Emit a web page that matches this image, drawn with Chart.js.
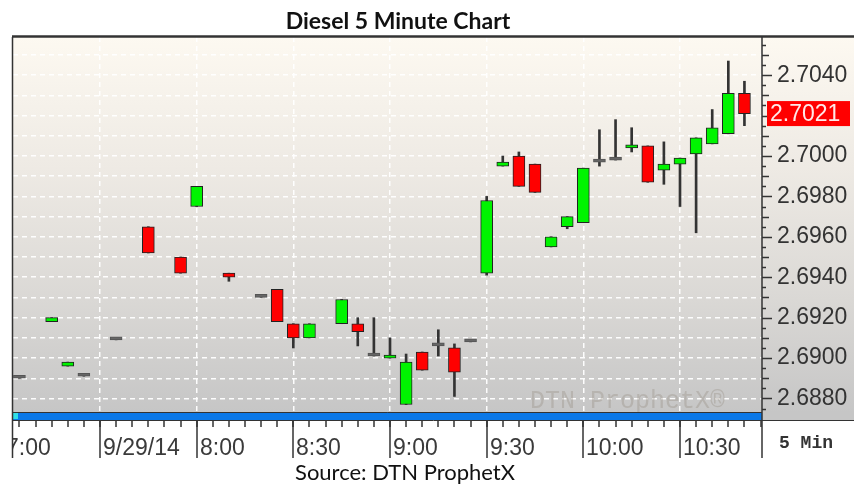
<!DOCTYPE html>
<html>
<head>
<meta charset="utf-8">
<script src="https://cdn.jsdelivr.net/npm/chart.js@4.4.0/dist/chart.umd.min.js"></script>
<style>
  html, body { margin: 0; padding: 0; background: #fff; }
</style>
</head>
<body>
<canvas id="dieselChart" width="854" height="485"></canvas>
<script>
// 5 minute bars, 9/29/14
const times  = ['7:05','7:15','7:20','7:25','7:35','7:45','7:55','8:00','8:10','8:20',
                '8:25','8:30','8:35','8:45','8:50','8:55','9:00','9:05','9:10','9:15',
                '9:20','9:25','9:30','9:35','9:40','9:45','9:50','9:55','10:00','10:05',
                '10:10','10:15','10:20','10:25','10:30','10:35','10:40','10:45','10:50'];
const opens  = [2.6890,2.6918,2.6896,2.6891,2.6909,2.6965,2.6950,2.6975,2.6942,2.6930,
                2.6934,2.6917,2.6910,2.6917,2.6917,2.6901,2.6900,2.6877,2.6903,2.6906,
                2.6905,2.6908,2.6942,2.6995,2.7000,2.6996,2.6955,2.6965,2.6967,2.6997,
                2.6998,2.7004,2.7005,2.6993,2.6996,2.7001,2.7006,2.7011,2.7031];
const highs  = [2.6890,2.6920,2.6898,2.6891,2.6909,2.6965,2.6950,2.6985,2.6942,2.6930,
                2.6934,2.6917,2.6917,2.6929,2.6920,2.6920,2.6910,2.6902,2.6903,2.6914,
                2.6907,2.6908,2.6980,2.7000,2.7002,2.6996,2.6960,2.6970,2.6994,2.7013,
                2.7018,2.7014,2.7005,2.7007,2.6999,2.7009,2.7023,2.7047,2.7037];
const lows   = [2.6890,2.6918,2.6896,2.6891,2.6909,2.6952,2.6942,2.6975,2.6938,2.6930,
                2.6918,2.6905,2.6910,2.6917,2.6906,2.6901,2.6900,2.6877,2.6894,2.6901,
                2.6881,2.6908,2.6941,2.6995,2.6985,2.6982,2.6955,2.6964,2.6967,2.6995,
                2.6998,2.7002,2.6987,2.6986,2.6975,2.6962,2.7006,2.7011,2.7015];
const closes = [2.6890,2.6920,2.6898,2.6891,2.6909,2.6952,2.6942,2.6985,2.6940,2.6930,
                2.6918,2.6910,2.6917,2.6929,2.6913,2.6901,2.6901,2.6898,2.6894,2.6906,
                2.6893,2.6908,2.6978,2.6997,2.6985,2.6982,2.6960,2.6970,2.6994,2.6997,
                2.6998,2.7005,2.6987,2.6996,2.6999,2.7009,2.7014,2.7031,2.7021];

const xTickLabels  = ['7:00','9/29/14','8:00','8:30','9:00','9:30','10:00','10:30'];
const xTickMinutes = [0, 30, 60, 90, 120, 150, 180, 210];
const yLabelValues = [2.6880, 2.6900, 2.6920, 2.6940, 2.6960, 2.6980, 2.7000, 2.7020, 2.7040];
const yGridValues  = [2.6880, 2.6890, 2.6900, 2.6910, 2.6920, 2.6930, 2.6940, 2.6950, 2.6960,
                      2.6970, 2.6980, 2.6990, 2.7000, 2.7010, 2.7020, 2.7030, 2.7040, 2.7050];

// minutes after 7:00
const toMin = t => { const p = t.split(':').map(Number); return (p[0] - 7) * 60 + p[1]; };

const GREEN = '#00f400', RED = '#ff0000';

const chrome = {
  id: 'chrome',
  beforeDraw(chart) {
    const c = chart.ctx, a = chart.chartArea;
    c.save();
    c.fillStyle = '#fff';
    c.fillRect(0, 0, chart.width, chart.height);
    const g = c.createLinearGradient(0, a.top, 0, a.bottom);
    g.addColorStop(0, '#fdf9f1');
    g.addColorStop(0.35, '#eeeae4');
    g.addColorStop(0.7, '#dad8d5');
    g.addColorStop(1, '#c6c6c6');
    c.fillStyle = g;
    c.fillRect(a.left, a.top, chart.width - a.left, a.bottom - a.top + 8);
    // scroll bar
    c.fillStyle = '#0a78e8';
    c.fillRect(a.left, a.bottom, a.right - a.left, 8);
    c.fillStyle = '#30e0e8';
    c.fillRect(a.left, a.bottom + 1, 5, 6);
    c.restore();
  },
  beforeDatasetsDraw(chart) {
    const c = chart.ctx, a = chart.chartArea;
    c.save();
    c.beginPath();
    c.rect(a.left, a.top, a.right - a.left, a.bottom - a.top);
    c.clip();
    c.font = '25px "Liberation Mono"';
    c.fillStyle = 'rgba(150,140,130,0.35)';
    c.textBaseline = 'alphabetic';
    c.fillText('DTN ProphetX\u00ae', 530, a.bottom - 4);
    c.restore();
  },
  afterDraw(chart) {
    const c = chart.ctx, a = chart.chartArea;
    const xs = chart.scales.x, ys = chart.scales.y;
    c.save();
    c.strokeStyle = '#333';
    // frame lines
    c.lineWidth = 2.5;
    c.beginPath(); c.moveTo(a.left - 1, a.top - 0.5); c.lineTo(chart.width, a.top - 0.5); c.stroke();
    c.lineWidth = 1.5;
    c.beginPath(); c.moveTo(a.left - 0.5, a.top); c.lineTo(a.left - 0.5, 458); c.stroke();
    c.beginPath(); c.moveTo(a.right, a.top); c.lineTo(a.right, 458); c.stroke();
    c.lineWidth = 1;
    c.beginPath(); c.moveTo(a.left, a.bottom + 0.5); c.lineTo(a.right, a.bottom + 0.5); c.stroke();
    c.beginPath(); c.moveTo(a.left, a.bottom + 8.5); c.lineTo(chart.width, a.bottom + 8.5); c.stroke();

    // x axis strip, clipped between the frame lines
    c.save();
    c.beginPath();
    c.rect(a.left, a.bottom + 9, a.right - a.left, 60);
    c.clip();
    c.lineWidth = 1.5;
    for (let m = 5; m < xs.max; m += 5) {
      const px = Math.round(xs.getPixelForValue(m));
      c.beginPath(); c.moveTo(px, a.bottom + 9); c.lineTo(px, a.bottom + 15); c.stroke();
    }
    c.font = '23px "Liberation Sans"';
    c.fillStyle = '#3a3a3a';
    c.textAlign = 'left';
    c.textBaseline = 'alphabetic';
    xTickMinutes.forEach((m, i) => {
      const px = Math.round(xs.getPixelForValue(m));
      c.beginPath(); c.moveTo(px, a.bottom + 9); c.lineTo(px, 458); c.stroke();
      c.fillText(xTickLabels[i], px + 3, 455);
    });
    c.restore();

    // y tick marks
    c.lineWidth = 1.5;
    for (let k = 0; k <= 36; k++) {
      const v = 2.6875 + k * 0.0005;
      if (v < ys.min || v > ys.max) continue;
      const py = Math.round(ys.getPixelForValue(v)) + 0.5;
      const len = k % 2 === 1 ? (yLabelValues.some(l => Math.abs(l - v) < 1e-6) ? 10 : 7) : 4;
      c.beginPath(); c.moveTo(a.right, py); c.lineTo(a.right + len, py); c.stroke();
    }

    // last price box
    const last = closes[closes.length - 1];
    const ly = ys.getPixelForValue(last);
    c.fillStyle = '#ff0000';
    c.fillRect(a.right + 5, ly - 12.5, 83, 25);
    c.fillStyle = '#ffe8e8';
    c.font = '23px "Liberation Sans"';
    c.textBaseline = 'middle';
    c.fillText(last.toFixed(4), a.right + 8, ly + 1);

    // interval box
    c.fillStyle = '#333';
    c.font = 'bold 18px "Liberation Mono"';
    c.textBaseline = 'alphabetic';
    c.fillText('5 Min', 779, 448);

    // title and source
    c.textAlign = 'center';
    c.fillStyle = '#111';
    c.font = 'bold 23px Lato';
    c.fillText('Diesel 5 Minute Chart', 398, 29);
    c.font = '22px Lato';
    c.fillText('Source: DTN ProphetX', 405, 480);
    c.restore();
  }
};

new Chart(document.getElementById('dieselChart'), {
  type: 'bar',
  data: {
    datasets: [
      {
        label: 'range',
        data: times.map((t, i) => ({ x: toMin(t), y: [lows[i], highs[i]] })),
        backgroundColor: '#333',
        borderWidth: 0,
        barThickness: 2,
        grouped: false,
        order: 2
      },
      {
        label: 'body',
        data: times.map((t, i) => ({ x: toMin(t), y: [opens[i], closes[i]] })),
        backgroundColor: ctx => {
          const r = ctx.raw.y;
          return r[1] > r[0] ? GREEN : (r[1] < r[0] ? RED : '#666');
        },
        borderColor: ctx => (ctx.raw.y[0] === ctx.raw.y[1] ? '#555' : '#222'),
        borderWidth: 1,
        borderSkipped: false,
        barThickness: 12,
        minBarLength: 3,
        grouped: false,
        order: 1
      }
    ]
  },
  options: {
    responsive: false,
    animation: false,
    devicePixelRatio: 1,
    layout: { padding: { left: 13, top: 37, right: 0, bottom: 0 } },
    plugins: { legend: { display: false }, tooltip: { enabled: false } },
    events: [],
    scales: {
      x: {
        type: 'linear',
        offset: false,
        min: 3.0,
        max: 235.45,
        afterBuildTicks: s => { s.ticks = xTickMinutes.slice(1).map(v => ({ value: v })); },
        afterFit: s => { s.height = 73; },
        ticks: { display: false },
        grid: { color: 'rgba(255,255,255,0.95)', lineWidth: 1.5, drawTicks: false, offset: false },
        border: { display: false, dash: [5, 4] }
      },
      y: {
        position: 'right',
        min: 2.68733,
        max: 2.70589,
        afterBuildTicks: s => { s.ticks = yGridValues.map(v => ({ value: v })); },
        afterFit: s => { s.width = 92; },
        ticks: {
          autoSkip: false,
          padding: 15,
          color: '#333',
          font: { family: 'Liberation Sans', size: 23 },
          callback: v => {
            const hit = yLabelValues.find(l => Math.abs(l - v) < 1e-6);
            return hit !== undefined && hit !== 2.7020 ? hit.toFixed(4) : '';
          }
        },
        grid: { color: 'rgba(255,255,255,0.95)', lineWidth: 1.5, drawTicks: false },
        border: { display: false, dash: [5, 4] }
      }
    }
  },
  plugins: [chrome]
});
</script>
</body>
</html>
